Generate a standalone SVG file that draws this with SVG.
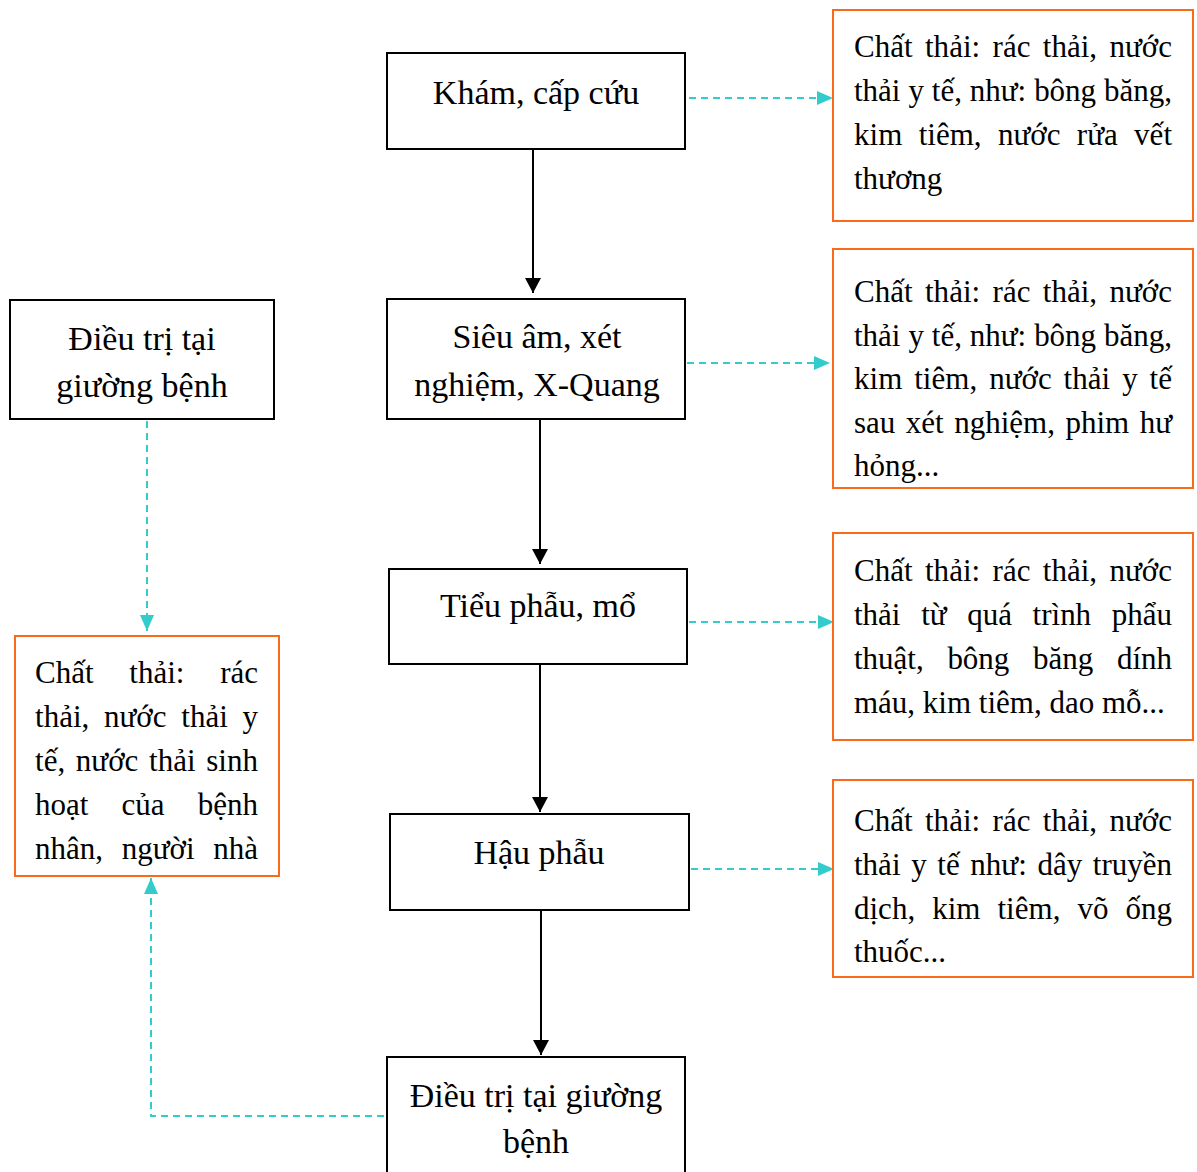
<svg xmlns="http://www.w3.org/2000/svg" width="1197" height="1172" viewBox="0 0 1197 1172">
<style>
  .box { fill: #ffffff; stroke: #000000; stroke-width: 2; }
  .obox { fill: #ffffff; stroke: #F96B1B; stroke-width: 2; }
  .t { font-family: "Liberation Serif", "Times New Roman", serif; fill: #000000; }
  .c { font-size: 34px; text-anchor: middle; }
  .w { font-size: 31px; }
  .solid { fill: none; stroke: #000000; stroke-width: 2; marker-end: url(#ah); }
  .dash { fill: none; stroke: #33CCCC; stroke-width: 2; stroke-dasharray: 7 5; marker-end: url(#dh); }
</style>
<defs>
  <marker id="ah" markerUnits="userSpaceOnUse" markerWidth="16" markerHeight="16" refX="15" refY="8" orient="auto">
    <path d="M0,0 L15,8 L0,16 Z" fill="#000000"/>
  </marker>
  <marker id="dh" markerUnits="userSpaceOnUse" markerWidth="16" markerHeight="14" refX="16" refY="7" orient="auto">
    <path d="M0,0 L16,7 L0,14 Z" fill="#33CCCC"/>
  </marker>
</defs>
<rect width="1197" height="1172" fill="#ffffff"/>

<g id="connectors">
  <line class="solid" x1="533" y1="149" x2="533" y2="293"/>
  <line class="solid" x1="540" y1="420" x2="540" y2="564"/>
  <line class="solid" x1="540" y1="665" x2="540" y2="812"/>
  <line class="solid" x1="541" y1="911" x2="541" y2="1055"/>
  <line class="dash" x1="689" y1="98" x2="833" y2="98"/>
  <line class="dash" x1="687" y1="363" x2="830" y2="363"/>
  <line class="dash" x1="689" y1="622" x2="834" y2="622"/>
  <line class="dash" x1="691" y1="869" x2="834" y2="869"/>
  <line class="dash" x1="147" y1="421" x2="147" y2="631"/>
  <path class="dash" d="M384,1116 H151 V878"/>
</g>

<g id="kham">
  <rect class="box" x="387" y="53" width="298" height="96"/>
  <text class="t c" x="536" y="104">Khám, cấp cứu</text>
</g>
<g id="sieuam">
  <rect class="box" x="387" y="299" width="298" height="120"/>
  <text class="t c" x="537" y="348">Siêu âm, xét</text>
  <text class="t c" x="537" y="396">nghiệm, X-Quang</text>
</g>
<g id="tieuphau">
  <rect class="box" x="389" y="569" width="298" height="95"/>
  <text class="t c" x="538" y="617">Tiểu phẫu, mổ</text>
</g>
<g id="hauphau">
  <rect class="box" x="390" y="814" width="299" height="96"/>
  <text class="t c" x="539" y="864">Hậu phẫu</text>
</g>
<g id="dieutri">
  <rect class="box" x="387" y="1057" width="298" height="130"/>
  <text class="t c" x="536" y="1107">Điều trị tại giường</text>
  <text class="t c" x="536" y="1153">bệnh</text>
</g>
<g id="dieutri-left">
  <rect class="box" x="10" y="300" width="264" height="119"/>
  <text class="t c" x="142" y="350">Điều trị tại</text>
  <text class="t c" x="142" y="397">giường bệnh</text>
</g>

<g id="waste-left">
  <rect class="obox" x="15" y="636" width="264" height="240"/>
  <text class="t w" x="35" y="683" word-spacing="28" textLength="223" lengthAdjust="spacing">Chất thải: rác</text>
  <text class="t w" x="35" y="727" word-spacing="6.9" textLength="223" lengthAdjust="spacing">thải, nước thải y</text>
  <text class="t w" x="35" y="771" word-spacing="2.9" textLength="223" lengthAdjust="spacing">tế, nước thải sinh</text>
  <text class="t w" x="35" y="815" word-spacing="25.4" textLength="223" lengthAdjust="spacing">hoạt của bệnh</text>
  <text class="t w" x="35" y="859" word-spacing="10.8" textLength="223" lengthAdjust="spacing">nhân, người nhà</text>
</g>

<g id="waste-1">
  <rect class="obox" x="833" y="10" width="360" height="211"/>
  <text class="t w" x="854" y="57" word-spacing="4.6" textLength="318" lengthAdjust="spacing">Chất thải: rác thải, nước</text>
  <text class="t w" x="854" y="101" word-spacing="0.15" textLength="318" lengthAdjust="spacing">thải y tế, như: bông băng,</text>
  <text class="t w" x="854" y="145" word-spacing="8.6" textLength="318" lengthAdjust="spacing">kim tiêm, nước rửa vết</text>
  <text class="t w" x="854" y="189">thương</text>
</g>
<g id="waste-2">
  <rect class="obox" x="833" y="249" width="360" height="239"/>
  <text class="t w" x="854" y="302" word-spacing="4.6" textLength="318" lengthAdjust="spacing">Chất thải: rác thải, nước</text>
  <text class="t w" x="854" y="345.5" word-spacing="0.15" textLength="318" lengthAdjust="spacing">thải y tế, như: bông băng,</text>
  <text class="t w" x="854" y="389" word-spacing="4.2" textLength="318" lengthAdjust="spacing">kim tiêm, nước thải y tế</text>
  <text class="t w" x="854" y="432.5" word-spacing="2.8" textLength="318" lengthAdjust="spacing">sau xét nghiệm, phim hư</text>
  <text class="t w" x="854" y="476">hỏng...</text>
</g>
<g id="waste-3">
  <rect class="obox" x="833" y="533" width="360" height="207"/>
  <text class="t w" x="854" y="581" word-spacing="4.6" textLength="318" lengthAdjust="spacing">Chất thải: rác thải, nước</text>
  <text class="t w" x="854" y="625" word-spacing="12.9" textLength="318" lengthAdjust="spacing">thải từ quá trình phẩu</text>
  <text class="t w" x="854" y="669" word-spacing="15.9" textLength="318" lengthAdjust="spacing">thuật, bông băng dính</text>
  <text class="t w" x="854" y="713">máu, kim tiêm, dao mỗ...</text>
</g>
<g id="waste-4">
  <rect class="obox" x="833" y="780" width="360" height="197"/>
  <text class="t w" x="854" y="831" word-spacing="4.6" textLength="318" lengthAdjust="spacing">Chất thải: rác thải, nước</text>
  <text class="t w" x="854" y="875" word-spacing="2.9" textLength="318" lengthAdjust="spacing">thải y tế như: dây truyền</text>
  <text class="t w" x="854" y="919" word-spacing="9.3" textLength="318" lengthAdjust="spacing">dịch, kim tiêm, võ ống</text>
  <text class="t w" x="854" y="962">thuốc...</text>
</g>
</svg>
